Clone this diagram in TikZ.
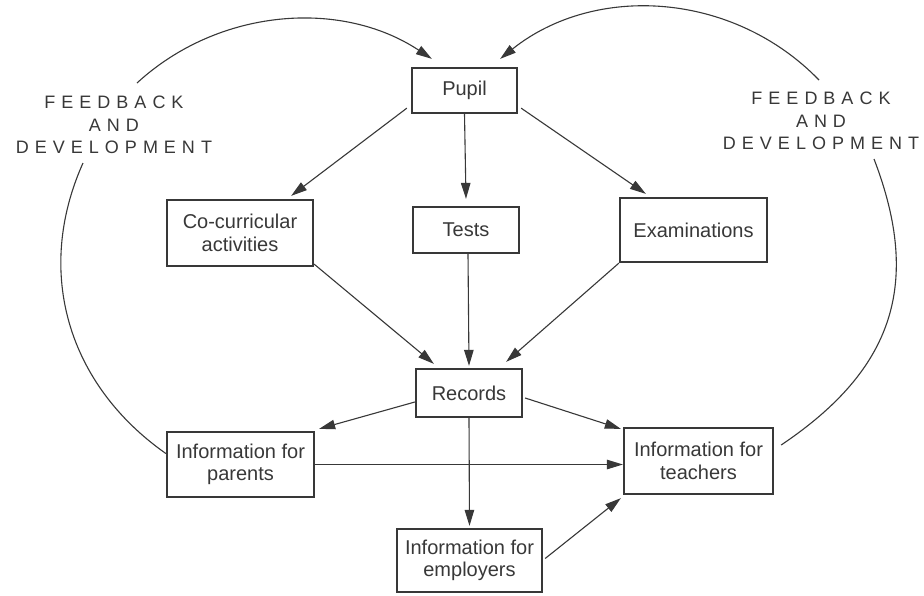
\documentclass[tikz,border=0pt]{standalone}
\usepackage{fontspec}
\setmainfont{Liberation Sans}
\usetikzlibrary{arrows.meta,calc}
\definecolor{ink}{gray}{0.22}
\def\ls#1{\lsx#1\relax}
\def\lsx#1{\ifx#1\relax\else\kern3pt#1\kern3pt\expandafter\lsx\fi}
\begin{document}
\begin{tikzpicture}[x=1pt,y=1pt,
  box/.style={draw=ink, line width=2.3pt, text=ink, font=\fontsize{20}{22.5}\selectfont, align=center, inner sep=0pt},
  conn/.style={draw=ink, line width=1.1pt},
  arr/.style={conn, -{Triangle[length=16pt,width=9.5pt]}},
  fb/.style={text=ink, font=\fontsize{18}{22.5}\selectfont, align=center, inner sep=0pt}]
\useasboundingbox (0,0) rectangle (924,-595);
\fill[white] (0,0) rectangle (924,-595);

% boxes
\node[box, minimum width=105pt, minimum height=45pt] (pupil) at (464.5,-90.5) {Pupil};
\node[box, minimum width=106pt, minimum height=46pt] (tests) at (466,-230) {Tests};
\node[box, minimum width=146pt, minimum height=66pt] (cocurr) at (240,-233) {Co-curricular\\activities};
\node[box, minimum width=147pt, minimum height=64pt] (exams) at (693.5,-230) {Examinations};
\node[box, minimum width=106pt, minimum height=48pt] (records) at (469,-393) {Records};
\node[box, minimum width=147pt, minimum height=65pt] (parents) at (240.5,-464.5) {Information for\\parents};
\node[box, minimum width=149pt, minimum height=66pt] (teachers) at (698.5,-461) {Information for\\teachers};
\node[box, minimum width=145pt, minimum height=63pt] (employers) at (469.5,-560.5) {Information for\\employers};

% labels
\node[fb] (fbL) at (114,-125) {\ls{FEEDBACK}\\\ls{AND}\\\ls{DEVELOPMENT}};
\node[fb] (fbR) at (821,-121) {\ls{FEEDBACK}\\\ls{AND}\\\ls{DEVELOPMENT}};

% straight connectors
\draw[arr] ([xshift=-4pt,yshift=6pt]pupil.south west) -- ([xshift=-23pt,yshift=3pt]cocurr.north east);
\draw[arr] (pupil.south) -- ([yshift=7pt]tests.north);
\draw[arr] ([xshift=3pt,yshift=6pt]pupil.south east) -- ([xshift=27pt,yshift=3pt]exams.north west);
\draw[arr] ([yshift=3pt]cocurr.south east) -- ([xshift=19pt,yshift=4pt]records.north west);
\draw[arr] ([xshift=2pt]tests.south) -- ([yshift=2pt]records.north);
\draw[arr] (exams.south west) -- ([xshift=-17pt,yshift=6pt]records.north east);
\draw[arr] ([yshift=-9pt]records.west) -- ([xshift=4pt,yshift=2pt]parents.north east);
\draw[arr] ([xshift=2pt,yshift=-5pt]records.east) -- ([xshift=-2pt,yshift=-2pt]teachers.north west);
\draw[arr] (parents.east) -- (parents.east -| teachers.west);
\draw[arr] (records.south) -- ([yshift=2pt]employers.north);
\draw[arr] ([xshift=2pt,yshift=2pt]employers.east) -- ([xshift=-2pt,yshift=-3pt]teachers.south west);

% feedback curves
\coordinate (gL1) at (83,-163);
\coordinate (gL2) at (137,-83);
\coordinate (gR1) at (874,-159);
\coordinate (gR2) at (819,-80);
\draw[conn] ([yshift=11pt]parents.west) .. controls (68.2,-384.9) and (34,-272.5) .. (gL1);
\draw[arr] (gL2) .. controls (218.3,-8.2) and (341,1.2) .. ([xshift=21pt,yshift=8pt]pupil.north west);
\draw[conn] ([xshift=7pt,yshift=16pt]teachers.east) .. controls (892.4,-370.3) and (922.4,-285) .. (gR1);
\draw[arr] (gR2) .. controls (733.3,8.3) and (595.1,16.9) .. ([xshift=-18pt,yshift=8pt]pupil.north east);
\end{tikzpicture}
\end{document}
